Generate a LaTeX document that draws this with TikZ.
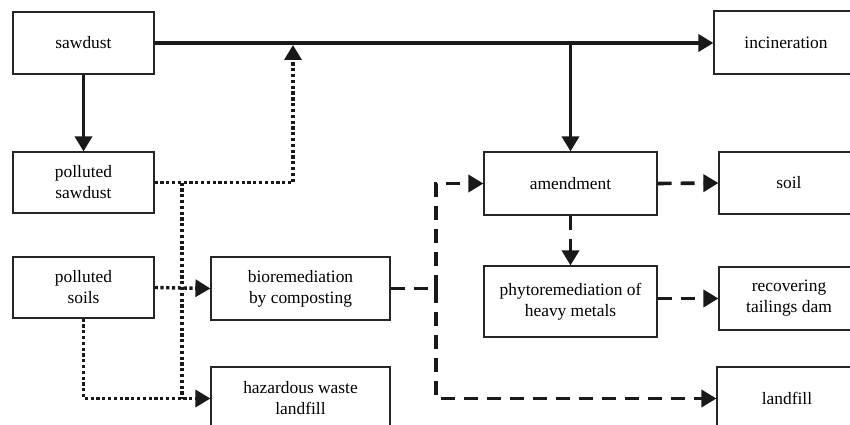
\documentclass[tikz,border=0pt]{standalone}
\usepackage{fontspec}
\setmainfont{Liberation Serif}
\usetikzlibrary{arrows.meta}
\begin{document}
\begin{tikzpicture}[x=1pt,y=-1pt,
  box/.style={draw=black!85,line width=1.2pt,fill=white,inner sep=0pt,align=center,
    font=\fontsize{17.4}{21}\selectfont},
  tip/.style={-{Triangle[length=15pt,width=17pt]}},
  solidline/.style={line width=3.6pt,black!90},
  dotline/.style={line width=3.4pt,black!90,dash pattern=on 3.2pt off 2.6pt},
  dashline/.style={line width=3.6pt,black!90,dash pattern=on 14pt off 9pt}]
\useasboundingbox (0,0) rectangle (850,425);
% boxes
\node[box,minimum width=141pt,minimum height=62pt] (sawdust) at (83.5,43) {sawdust};
\node[box,minimum width=141pt,minimum height=61pt] (psawdust) at (83.5,182.5) {polluted\\sawdust};
\node[box,minimum width=141pt,minimum height=61pt] (psoils) at (83.5,287.5) {polluted\\soils};
\node[box,minimum width=179pt,minimum height=63pt] (bio) at (300.5,288.5) {bioremediation\\by composting};
\node[box,minimum width=179pt,minimum height=63pt] (haz) at (300.5,398.5) {hazardous waste\\landfill};
\node[box,minimum width=173pt,minimum height=63pt] (amend) at (570.5,183.5) {amendment};
\node[box,minimum width=173pt,minimum height=71pt] (phyto) at (570.5,301.5) {phytoremediation of\\heavy metals};
\node[box,minimum width=144pt,minimum height=63pt] (incin) at (786,42.5) {incineration};
\node[box,minimum width=140pt,minimum height=62pt] (soil) at (789,183) {soil};
\node[box,minimum width=140pt,minimum height=63pt] (recov) at (789,298.5) {recovering\\tailings dam};
\node[box,minimum width=140pt,minimum height=63pt] (land) at (787,398.5) {landfill};
% junction points
\coordinate (br) at (570.5,43);
\coordinate (jn) at (293,45);
\coordinate (ds) at (182,182.5);
\coordinate (dj) at (436,288.5);
% solid
\draw[solidline,tip] (sawdust.east) -- (sawdust.east -| incin.west);
\draw[solidline,tip] (br) -- (amend.north);
\draw[solidline,tip] (sawdust.south) -- (psawdust.north);
% dotted
\draw[dotline,tip] (psawdust.east) -| (jn);
\draw[dotline] (ds) -- (ds |- haz.west);
\draw[dotline,tip] (psoils.east) -- (bio.west);
\draw[dotline,tip] (psoils.south) |- (haz.west);
% dashed
\draw[dashline] (bio.east) -- (dj);
\draw[dashline,tip] (dj) |- (amend.west);
\draw[dashline,tip] (dj) |- (land.west);
\draw[dashline,tip] (amend.south) -- (phyto.north);
\draw[dashline,tip] (amend.east) -- (soil.west);
\draw[dashline,tip] (phyto.east |- recov.west) -- (recov.west);
\end{tikzpicture}
\end{document}
